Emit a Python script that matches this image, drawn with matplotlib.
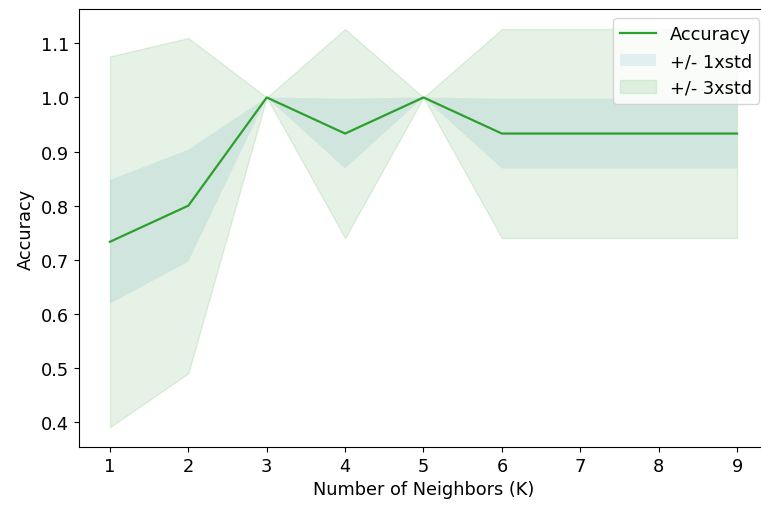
import matplotlib
matplotlib.use("Agg")
import matplotlib.pyplot as plt
import numpy as np

plt.rcParams['font.size'] = 12.8

ks = [1, 2, 3, 4, 5, 6, 7, 8, 9]
mean_acc = [0.7333, 0.8, 1.0, 0.9333, 1.0, 0.9333, 0.9333, 0.9333, 0.9333]
std_acc = [0.1142, 0.1033, 0.0, 0.0644, 0.0, 0.0644, 0.0644, 0.0644, 0.0644]
legend_labels = ['Accuracy', '+/- 1xstd', '+/- 3xstd']

m = np.array(mean_acc)
s = np.array(std_acc)

fig, ax = plt.subplots(figsize=(7.61, 5.06), dpi=100)
ax.plot(ks, m, color='#2ca02c', linewidth=1.6)
ax.fill_between(ks, m - 1 * s, m + 1 * s, alpha=0.10)
ax.fill_between(ks, m - 3 * s, m + 3 * s, alpha=0.10, color="green")
ax.legend(legend_labels, loc='upper right')
ax.set_ylabel('Accuracy')
ax.set_xlabel('Number of Neighbors (K)')
ax.spines['right'].set_visible(False)
fig.subplots_adjust(left=0.1033, right=1.0097, top=0.980, bottom=0.1146)
fig.savefig("out.png", dpi=100)
